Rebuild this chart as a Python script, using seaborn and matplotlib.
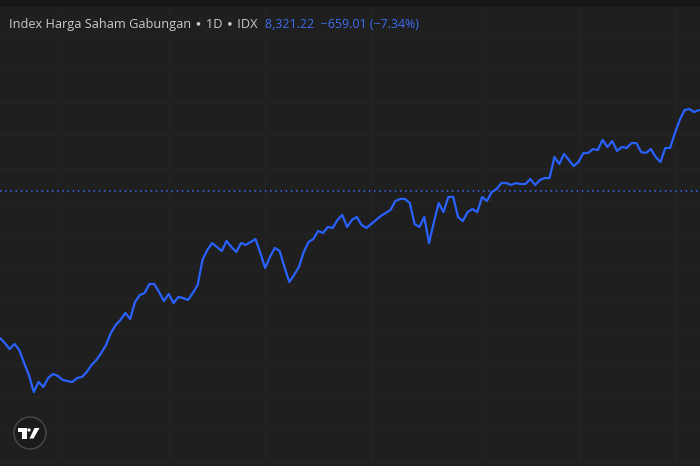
import numpy as np
import pandas as pd
import matplotlib
matplotlib.use("Agg")
import matplotlib.pyplot as plt
import seaborn as sns
from matplotlib.patches import Circle, Polygon, Rectangle
from matplotlib.transforms import IdentityTransform

# ---- data ----
title_main = "Index Harga Saham Gabungan \u2219 1D \u2219 IDX"
title_quote = "8,321.22  \u2212659.01 (\u22127.34%)"

close = [
    6417, 6375, 6325, 6367, 6317, 6208, 6108, 5966, 6050, 6008,
    6083, 6117, 6100, 6067, 6058, 6050, 6083, 6092, 6133, 6192,
    6234, 6292, 6359, 6459, 6526, 6568, 6626, 6576, 6718, 6776,
    6793, 6868, 6868, 6801, 6726, 6785, 6709, 6760, 6751, 6735,
    6793, 6860, 7069, 7152, 7210, 7177, 7144, 7227, 7177, 7135,
    7210, 7194, 7219, 7244, 7127, 7002, 7094, 7169, 7144, 7010,
    6885, 6943, 7010, 7135, 7219, 7244, 7311, 7294, 7344, 7336,
    7403, 7444, 7344, 7403, 7428, 7361, 7336, 7369, 7403, 7436,
    7461, 7486, 7561, 7578, 7578, 7544, 7369, 7344, 7428, 7210,
    7386, 7544, 7469, 7595, 7595, 7428, 7394, 7469, 7494, 7469,
    7595, 7561, 7636, 7661, 7711, 7711, 7695, 7711, 7703, 7703,
    7745, 7695, 7737, 7753, 7753, 7929, 7870, 7954, 7904, 7853,
    7887, 7962, 7962, 7995, 7987, 8071, 8012, 8062, 7979, 8012,
    8004, 8045, 8045, 7970, 7962, 7995, 7929, 7887, 8004, 8004,
    8129, 8238, 8321, 8329, 8304, 8321,
]
bars = list(range(len(close)))
ref_level = 7645
month_start_bars = [12, 35, 55, 77, 100, 120, 140]

df = pd.DataFrame({"bar": bars, "close": close})

# ---- style ----
BG = "#1f1f1f"
GRID = "#242424"
BLUE = "#2962ff"

sns.set_theme(style="dark", rc={
    "axes.facecolor": BG,
    "figure.facecolor": BG,
    "savefig.facecolor": BG,
})
plt.rcParams["font.family"] = ["Open Sans", "DejaVu Sans"]

fig = plt.figure(figsize=(7.0, 4.66), dpi=100)
ax = fig.add_axes([0, 0, 1, 1])

sns.lineplot(data=df, x="bar", y="close", ax=ax, color=BLUE, linewidth=1.6,
             zorder=5)
ax.axhline(ref_level, color="#3a6cf4", linewidth=1.1, linestyle=(0, (1, 2.4)),
           zorder=4)

ax.set_xlim(0, len(close) - 1 + 0.2)
ax.set_ylim(5348.4, 9239.5)

price_grid = 8930.5 - 273.6 * np.arange(14)
ax.set_yticks(price_grid)
ax.set_xticks(month_start_bars)
ax.grid(True, color=GRID, linewidth=1.0)
ax.tick_params(length=0, labelbottom=False, labelleft=False)
ax.set_xlabel("")
ax.set_ylabel("")
for s in ax.spines.values():
    s.set_visible(False)

# darker strip at the very top
fig.add_artist(Rectangle((0, 1 - 7 / 466), 1, 7 / 466, transform=fig.transFigure,
                         facecolor="#181818", edgecolor="none", zorder=10))

# header texts
fig.text(9 / 700, 1 - 28 / 466, title_main, color="#c9cacd", fontsize=9.2,
         va="baseline", ha="left", zorder=11)
fig.text(265 / 700, 1 - 28 / 466, title_quote, color="#3b6ef2", fontsize=8.9,
         va="baseline", ha="left", zorder=11)

# TradingView-like badge bottom-left (display pixel coords, origin bottom-left)
H = 466
def P(x, y):
    return (x, H - y)
tr = IdentityTransform()
fig.add_artist(Circle(P(30, 433), 16, transform=tr, facecolor="#1b1b1b",
                      edgecolor="#4a4a4a", linewidth=1.0, zorder=12))
fig.add_artist(Polygon([P(17.5, 428), P(26.5, 428), P(26.5, 438.5), P(22.3, 438.5),
                        P(22.3, 431.8), P(17.5, 431.8)], closed=True,
                       transform=tr, facecolor="white", edgecolor="none", zorder=13))
fig.add_artist(Circle(P(29, 430), 1.7, transform=tr, facecolor="white",
                      edgecolor="none", zorder=13))
fig.add_artist(Polygon([P(34.5, 428), P(39.5, 428), P(33.5, 438.5), P(29.5, 438.5)],
                       closed=True, transform=tr, facecolor="white",
                       edgecolor="none", zorder=13))

fig.savefig("out.png", dpi=100)
